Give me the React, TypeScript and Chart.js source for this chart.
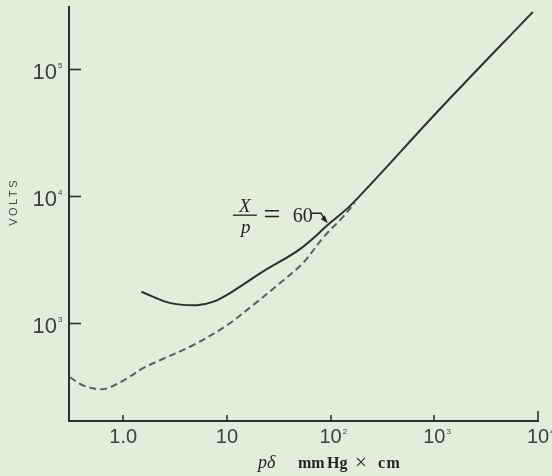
import { useEffect, useRef } from 'react';
import { Chart, registerables } from 'chart.js';
Chart.register(...registerables);

// Paschen curve (log-log): p·δ in mm Hg × cm vs breakdown volts
const solidPd = [1.5, 2.8, 5.1, 7.3, 10.7, 22, 50.6, 98.5, 164, 1133, 8930];
const solidVolts = [1750, 1430, 1370, 1455, 1710, 2510, 3800, 6100, 8770, 48500, 284000];
const dashPd = [0.307, 0.41, 0.596, 0.745, 1.09, 1.55, 2.26, 4.7, 10, 17.8, 32.4, 54, 85, 131, 171];
const dashVolts = [370, 319, 297, 308, 363, 436, 504, 662, 952, 1371, 2046, 2944, 4700, 6790, 8770];

const xTickValues = [1, 10, 100, 1000, 10000];
const xTickBase = ['1.0', '10', '10', '10', '10'];
const xTickSup = ['', '', '2', '3', '4'];
const yTickValues = [1000, 10000, 100000];
const yTickBase = ['10', '10', '10'];
const yTickSup = ['3', '4', '5'];

const xMin = 0.3;
const xMax = 10000;
const yMin = 167;
const yMax = 310000;

const annotationPd = 92;
const annotationVolts = 6200;
const annotationNumerator = 'X';
const annotationDenominator = 'p';
const annotationEquals = '=';
const annotationValue = '60';
const yAxisTitle = 'VOLTS';
const xAxisTitleVar = 'pδ';
const xAxisTitleUnits = ['mm', 'Hg', '×', 'cm'];

const BG = '#e2eddb';
const INK = '#2a322c';
const LABEL = '#3a423c';
const SANS = '"Liberation Sans", Arial, sans-serif';
const SERIF = '"Liberation Serif", "DejaVu Serif", serif';

const decor = {
  id: 'decor',
  beforeDraw(chart: any) {
    const { ctx, width, height } = chart;
    ctx.save();
    ctx.fillStyle = BG;
    ctx.fillRect(0, 0, width, height);
    ctx.restore();
  },
  afterDraw(chart: any) {
    const { ctx, chartArea } = chart;
    const x = chart.scales.x;
    const y = chart.scales.y;
    ctx.save();
    ctx.strokeStyle = INK;
    ctx.lineWidth = 1.6;
    // inner tick marks on y axis
    yTickValues.forEach((v) => {
      const py = Math.round(y.getPixelForValue(v)) + 0.5;
      ctx.beginPath();
      ctx.moveTo(chartArea.left, py);
      ctx.lineTo(chartArea.left + 12, py);
      ctx.stroke();
    });
    // inner tick marks on x axis
    xTickValues.forEach((v, i) => {
      const px = Math.round(x.getPixelForValue(v));
      const len = i === xTickValues.length - 1 ? 10 : 6;
      ctx.beginPath();
      ctx.moveTo(px, chartArea.bottom);
      ctx.lineTo(px, chartArea.bottom - len);
      ctx.stroke();
    });

    // tick labels with small superscripts
    ctx.fillStyle = LABEL;
    ctx.textBaseline = 'alphabetic';
    xTickValues.forEach((v, i) => {
      const px = x.getPixelForValue(v);
      ctx.font = `20px ${SANS}`;
      ctx.textAlign = 'center';
      const w = ctx.measureText(xTickBase[i]).width;
      ctx.fillText(xTickBase[i], px, 443);
      if (xTickSup[i]) {
        ctx.font = `8px ${SANS}`;
        ctx.textAlign = 'left';
        ctx.fillText(xTickSup[i], px + w / 2 + 1, 434);
      }
    });
    yTickValues.forEach((v, i) => {
      const py = y.getPixelForValue(v);
      ctx.font = `22px ${SANS}`;
      ctx.textAlign = 'right';
      ctx.fillText(yTickBase[i], 57, py + 10);
      ctx.font = `8px ${SANS}`;
      ctx.textAlign = 'left';
      ctx.fillText(yTickSup[i], 58, py - 1);
    });

    // VOLTS title (rotated)
    ctx.save();
    ctx.fillStyle = LABEL;
    ctx.font = `11px ${SANS}`;
    (ctx as any).letterSpacing = '2.5px';
    ctx.translate(14, y.getPixelForValue(10000) + 7);
    ctx.rotate(-Math.PI / 2);
    ctx.textAlign = 'center';
    ctx.textBaseline = 'middle';
    ctx.fillText(yAxisTitle, 1, 0);
    ctx.restore();

    // x-axis title
    ctx.save();
    ctx.fillStyle = '#1e241f';
    ctx.textBaseline = 'alphabetic';
    ctx.textAlign = 'left';
    const base = 468;
    ctx.font = `italic 18px ${SERIF}`;
    ctx.fillText(xAxisTitleVar, 258, base);
    const starts = [298, 327, 355, 378];
    xAxisTitleUnits.forEach((t, i) => {
      ctx.font = t === '×' ? `21px ${SERIF}` : `bold 16px ${SERIF}`;
      (ctx as any).letterSpacing = t === 'cm' ? '1.5px' : '0px';
      ctx.fillText(t, starts[i], t === '×' ? base + 1 : base);
    });
    ctx.restore();

    // annotation X/p = 60 with arrow
    const tx = x.getPixelForValue(annotationPd);
    const ty = y.getPixelForValue(annotationVolts);
    ctx.save();
    ctx.fillStyle = '#1e241f';
    ctx.strokeStyle = '#1e241f';
    ctx.font = `italic 19px ${SERIF}`;
    ctx.textAlign = 'center';
    ctx.textBaseline = 'alphabetic';
    ctx.fillText(annotationNumerator, tx - 82, ty - 10);
    ctx.fillText(annotationDenominator, tx - 81, ty + 11);
    ctx.lineWidth = 1.3;
    ctx.beginPath();
    ctx.moveTo(tx - 94, ty - 7);
    ctx.lineTo(tx - 70, ty - 7);
    ctx.stroke();
    ctx.font = `30px ${SERIF}`;
    ctx.textBaseline = 'alphabetic';
    ctx.fillText(annotationEquals, tx - 55, ty + 2);
    ctx.font = `20px ${SERIF}`;
    ctx.textAlign = 'right';
    ctx.fillText(annotationValue, tx - 14, ty);
    // arrow
    ctx.lineWidth = 1.4;
    ctx.beginPath();
    ctx.moveTo(tx - 15, ty - 9);
    ctx.lineTo(tx - 6, ty - 9);
    ctx.lineTo(tx - 1, ty - 1);
    ctx.stroke();
    ctx.beginPath();
    ctx.moveTo(tx + 1, ty + 1);
    ctx.lineTo(tx - 6, ty - 3);
    ctx.lineTo(tx - 2, ty - 7);
    ctx.closePath();
    ctx.fill();
    ctx.restore();

    ctx.restore();
  },
};

export default function App() {
  const ref = useRef<HTMLCanvasElement | null>(null);
  useEffect(() => {
    if (!ref.current) return;
    const chart = new Chart(ref.current, {
      type: 'scatter',
      data: {
        datasets: [
          {
            label: 'solid',
            data: solidPd.map((v, i) => ({ x: v, y: solidVolts[i] })),
            showLine: true,
            borderColor: INK,
            borderWidth: 2,
            pointRadius: 0,
            tension: 0.35,
          },
          {
            label: 'dashed',
            data: dashPd.map((v, i) => ({ x: v, y: dashVolts[i] })),
            showLine: true,
            borderColor: '#56625a',
            borderWidth: 2,
            borderDash: [7, 4],
            pointRadius: 0,
            tension: 0.35,
          },
        ],
      },
      options: {
        responsive: false,
        animation: false,
        events: [],
        layout: { padding: { top: 7, right: 14, left: 0, bottom: 0 } },
        plugins: { legend: { display: false }, tooltip: { enabled: false }, title: { display: false } },
        scales: {
          x: {
            type: 'logarithmic',
            min: xMin,
            max: xMax,
            grid: { display: false, drawTicks: false },
            border: { display: true, color: INK, width: 2 },
            afterBuildTicks: (s: any) => {
              s.ticks = xTickValues.map((v) => ({ value: v }));
            },
            afterFit: (s: any) => {
              s.height = 55;
              s.paddingLeft = 0;
              s.paddingRight = 0;
            },
            ticks: { display: false, autoSkip: false },
          },
          y: {
            type: 'logarithmic',
            min: yMin,
            max: yMax,
            grid: { display: false, drawTicks: false },
            border: { display: true, color: INK, width: 2 },
            afterBuildTicks: (s: any) => {
              s.ticks = yTickValues.map((v) => ({ value: v }));
            },
            afterFit: (s: any) => {
              s.width = 69;
              s.paddingTop = 0;
              s.paddingBottom = 0;
            },
            ticks: { display: false, autoSkip: false },
          },
        },
      },
      plugins: [decor],
    });
    return () => chart.destroy();
  }, []);
  return (
    <div style={{ position: 'fixed', left: 0, top: 0, width: 552, height: 476, background: BG }}>
      <canvas ref={ref} width={552} height={476} style={{ display: 'block' }} />
    </div>
  );
}
